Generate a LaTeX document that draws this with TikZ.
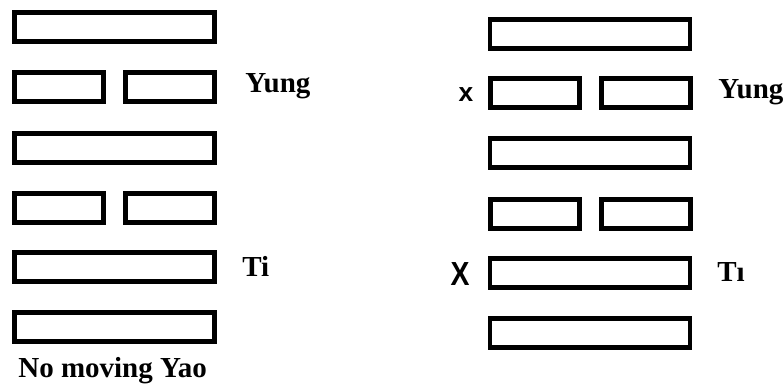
\documentclass[tikz,border=0pt]{standalone}
\usepackage{fontspec}
\setmainfont{Liberation Serif}
\newfontfamily\marksans{Liberation Sans}
\usepackage{tikz}
\usetikzlibrary{positioning}

\begin{document}
\begin{tikzpicture}[
  x=0.02cm, y=-0.02cm,
  font=\bfseries\fontsize{16.5}{19}\selectfont,
  yang/.style={draw=black, line width=2.8pt, inner sep=0pt,
               minimum width=4.0cm, minimum height=0.58cm},
  yinhalf/.style={draw=black, line width=2.8pt, inner sep=0pt,
                  minimum width=1.78cm, minimum height=0.58cm},
  linelabel/.style={anchor=west, inner sep=0pt},
  movemark/.style={inner sep=0pt, font=\marksans\bfseries},
]
\useasboundingbox (0,0) rectangle (784,387);

%====================== LEFT HEXAGRAM ======================
\node[yang] (L6) at (114.5,27) {};
\node[yinhalf] (L5a) at (59,87) {};
\node[yinhalf] (L5b) at (170,87) {};
\node[yang] (L4) at (114.5,148) {};
\node[yinhalf] (L3a) at (59,208) {};
\node[yinhalf] (L3b) at (170,208) {};
\node[yang] (L2) at (114.5,267) {};
\node[yang] (L1) at (114.5,327) {};
\node[linelabel] (Lyung) at (245,86) {Yung};
\node[linelabel] (Lti) at (242,266) {Ti};
\node[linelabel] (Lcap) at (18,371) {No moving Yao};

%====================== RIGHT HEXAGRAM ======================
\node[yang] (R6) at (590,34) {};
\node[yinhalf] (R5a) at (535,93) {};
\node[yinhalf] (R5b) at (646,93) {};
\node[yang] (R4) at (590,153) {};
\node[yinhalf] (R3a) at (535,214) {};
\node[yinhalf] (R3b) at (646,214) {};
\node[yang] (R2) at (590,273) {};
\node[yang] (R1) at (590,333) {};
\node[linelabel] (Ryung) at (718,92) {Yung};
\node[linelabel] (Rti) at (717,272) {Tı};
\node[movemark, font=\marksans\bfseries\fontsize{15}{15}\selectfont] (Rx5) at (466,95) {x};
\node[movemark, font=\marksans\bfseries\fontsize{19}{19}\selectfont, xscale=0.85] (Rx2) at (460,274) {X};
\end{tikzpicture}
\end{document}
